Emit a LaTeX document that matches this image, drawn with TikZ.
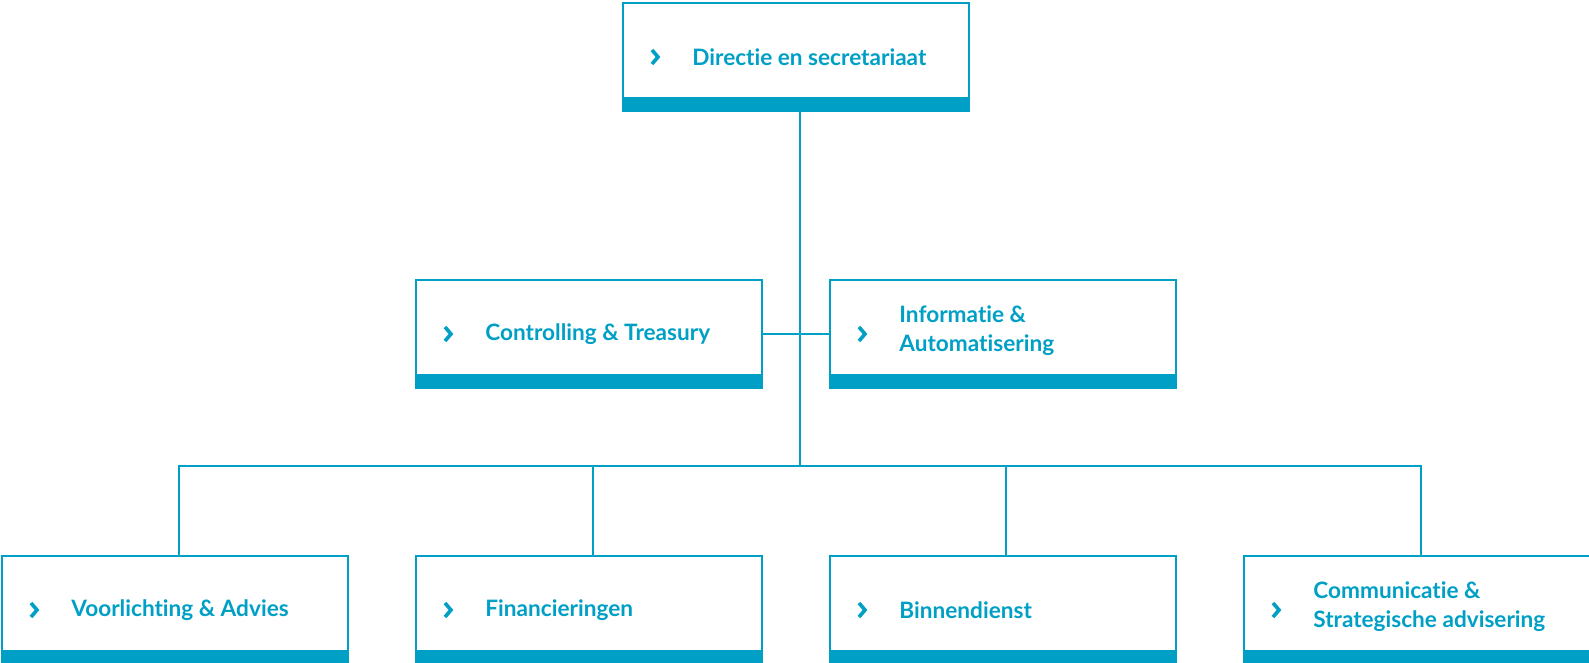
\documentclass[tikz,border=0pt]{standalone}
\usepackage{fontspec}
\setmainfont{Lato}[Ligatures=NoCommon]
\usetikzlibrary{positioning}
\definecolor{orgblue}{RGB}{0,160,198}
\tikzset{
  unitbox/.style={draw=orgblue, line width=1pt, fill=white, minimum width=173pt, minimum height=54pt, inner sep=0pt,
    path picture={\fill[orgblue] (path picture bounding box.south west) rectangle ([yshift=7pt]path picture bounding box.south east);}},
  unittext/.style={text=orgblue, font=\fontsize{11.3}{14.4}\selectfont\bfseries, align=left, inner sep=0pt, anchor=west},
  chevron/.style={orgblue, line width=1.8pt, miter limit=4},
  link/.style={orgblue, line width=1pt}
}

\begin{document}
\begin{tikzpicture}[x=0.5pt,y=-0.5pt]
\useasboundingbox (0,0) rectangle (1589,663);

% boxes
\node[unitbox] (dir) at (796,57) {};
\node[unitbox] (ctrl) at (589,334) {};
\node[unitbox] (info) at (1003,334) {};
\node[unitbox] (voor) at (175,610) {};
\node[unitbox] (fin) at (589,610) {};
\node[unitbox] (bin) at (1003,610) {};
\node[unitbox] (comm) at (1417,610) {};

% texts
\node[unittext, right=35pt of dir.west] (dirtxt) {Directie en secretariaat};
\node[unittext, right=35pt of ctrl.west] (ctrltxt) {Controlling \& Treasury};
\node[unittext, right=35pt of info.west, yshift=1.5pt] (infotxt) {Informatie \&\\Automatisering};
\node[unittext, right=35pt of voor.west] (voortxt) {Voorlichting \& Advies};
\node[unittext, right=35pt of fin.west] (fintxt) {Financieringen};
\node[unittext, right=35pt of bin.west] (bintxt) {Binnendienst};
\node[unittext, right=35pt of comm.west, yshift=1.5pt] (commtxt) {Communicatie \&\\Strategische advisering};

% chevrons
\foreach \b in {dir,ctrl,info,voor,fin,bin,comm}
  \draw[chevron] ([xshift=15pt,yshift=0pt]\b.west) ++(0,-7) -- ++(6,7) -- ++(-6,7);

% connectors
\coordinate (bus) at (800,466);
\draw[link] ([xshift=2pt]dir.south) -- (bus);
\draw[link] (ctrl.east) -- (info.west);
\draw[link] ([xshift=2pt]voor.north) |- (bus);
\draw[link] ([xshift=2pt]fin.north) |- (bus);
\draw[link] ([xshift=1.5pt]bin.north) |- (bus);
\draw[link] ([xshift=2pt]comm.north) |- (bus);
\end{tikzpicture}
\end{document}
